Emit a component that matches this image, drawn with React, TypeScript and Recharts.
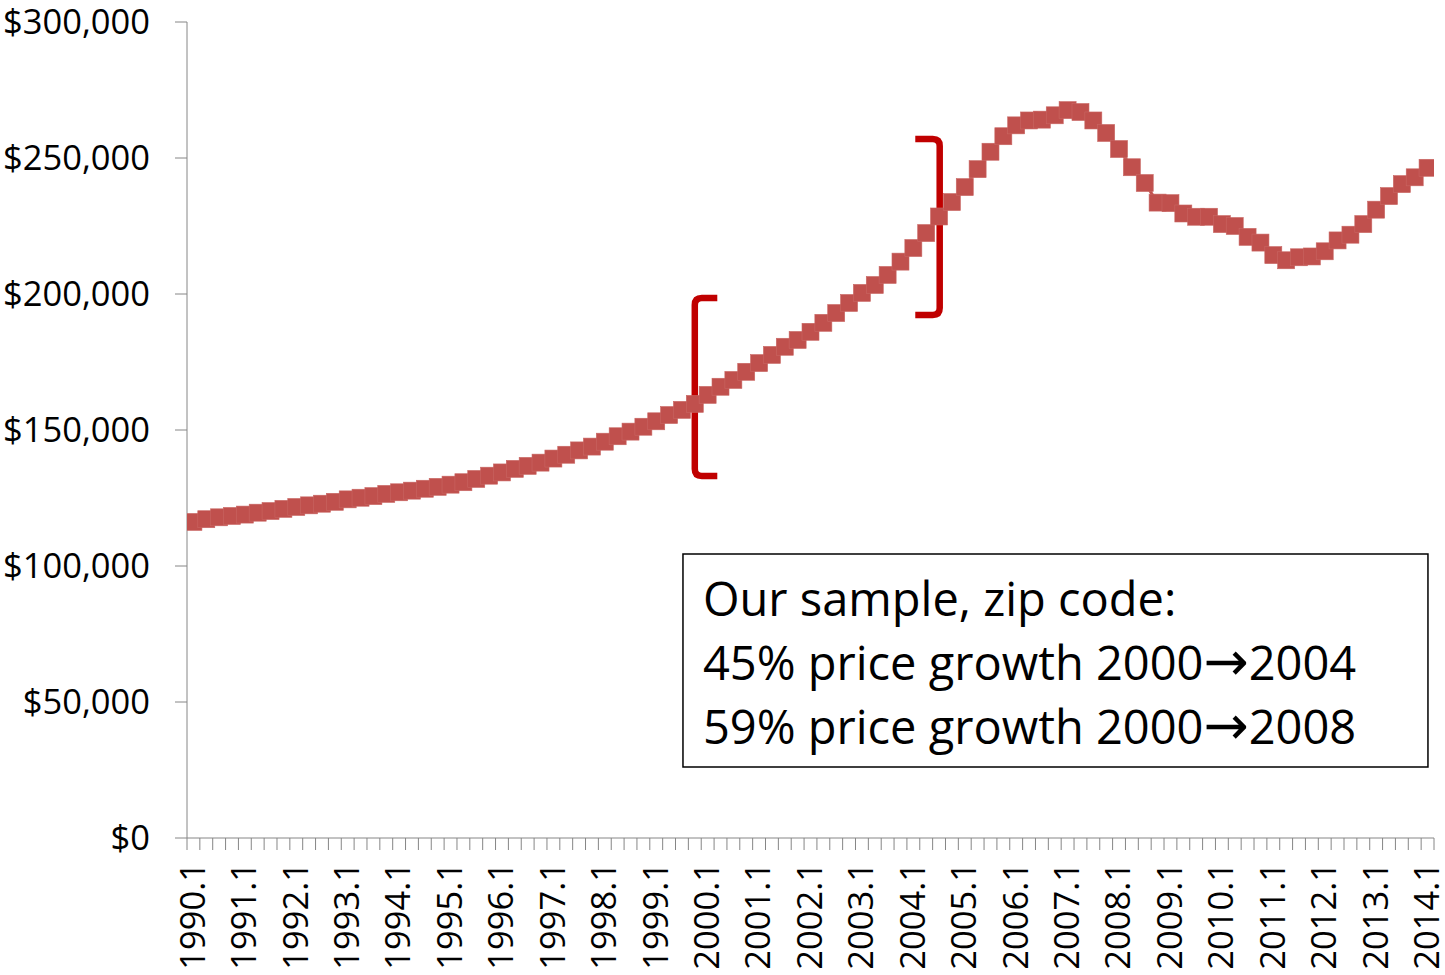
import React from "react";
import {
  LineChart,
  Line,
  XAxis,
  YAxis,
  ReferenceLine,
  ReferenceArea,
} from "recharts";

// ---------- data ----------
const YEARS = [
  1990, 1991, 1992, 1993, 1994, 1995, 1996, 1997, 1998, 1999, 2000, 2001, 2002,
  2003, 2004, 2005, 2006, 2007, 2008, 2009, 2010, 2011, 2012, 2013, 2014,
];
const QUARTERS = [1, 2, 3, 4];
const LAST_CATEGORY = "2014.1";

// quarterly median price (USD), 1990.1 .. 2014.1
const PRICES = [
  116200, 117200, 117900, 118400, 118900, 119600, 120200, 121000, 121700, 122300,
  122900, 123600, 124500, 125100, 125700, 126500, 127100, 127700, 128400, 129100,
  129900, 130800, 132000, 133200, 134400, 135700, 136800, 138000, 139500, 140900,
  142500, 143900, 145700, 147700, 149400, 151200, 153200, 155500, 157400, 159600,
  162900, 165900, 168400, 171400, 174600, 177600, 180600, 183100, 186100, 189400,
  193000, 196700, 200400, 203300, 207000, 211900, 216900, 222400, 228500, 233800,
  239300, 245900, 252300, 258000, 262000, 263800, 264100, 265700, 267600, 266900,
  263800, 259200, 253300, 246600, 240800, 233600, 233400, 229600, 228400, 228400,
  225700, 225000, 221000, 218900, 214300, 212400, 213500, 213800, 215700, 219700,
  221800, 225700, 231000, 236000, 240400, 242900, 246400,
];

const Y_TICKS = [0, 50000, 100000, 150000, 200000, 250000, 300000];

const ANNOTATION_LINES = [
  ["Our sample, zip code:"],
  ["45% price growth 2000", "\u2192", "2004"],
  ["59% price growth 2000", "\u2192", "2008"],
];

// brackets: arm end x, vertical x, top y, bottom y (data units)
const BRACKET_LEFT = { armX: 40.75, x: 39.0, top: 198500, bottom: 133100 };
const BRACKET_RIGHT = { armX: 56.15, x: 58.05, top: 257000, bottom: 192300 };

// annotation box in data units
const BOX = { x1: 38.08, x2: 96.03, y1: 26100, y2: 104400 };

// ---------- derived ----------
const CATEGORIES: string[] = [];
for (const y of YEARS) {
  for (const q of QUARTERS) {
    if (CATEGORIES.length && CATEGORIES[CATEGORIES.length - 1] === LAST_CATEGORY) break;
    CATEGORIES.push(`${y}.${q}`);
  }
}
const DATA = CATEGORIES.map((c, i) => ({ i, label: c, v: PRICES[i] }));
const N = CATEGORIES.length;
const BOUNDARY_TICKS = Array.from({ length: N + 1 }, (_, k) => k - 0.5);
const LABEL_TICKS = CATEGORIES.map((c, i) => i).filter((i) => i % 4 === 0);

const RED = "#C0504D";
const AXIS = "#868686";
const FONT = "'Open Sans', sans-serif";
const X_MAIN = "a_ticks";
const X_LABELS = "b_labels";

const SquareDot = (props: any) => {
  const { cx, cy, index } = props;
  if (cx == null || cy == null) return <g key={`d${index}`} />;
  return (
    <rect
      key={`d${index}`}
      x={cx - 8.5}
      y={cy - 8.5}
      width={17}
      height={17}
      fill={RED}
      stroke="#C96663"
      strokeWidth={0.6}
    />
  );
};

const EmptyTick = () => <g />;

const XLabelTick = (props: any) => {
  const { x, y, payload } = props;
  const text = CATEGORIES[payload.value] ?? "";
  return (
    <text
      x={x}
      y={y}
      transform={`rotate(-90, ${x}, ${y})`}
      textAnchor="end"
      dy="0.33em"
      fontSize={34.5}
      fontFamily={FONT}
      fill="#000"
    >
      {text}
    </text>
  );
};

const BracketShape = (props: any) => {
  const { x1, y1, x2, y2 } = props;
  if ([x1, y1, x2, y2].some((v) => v == null || isNaN(v))) return <g />;
  const s = Math.sign(x2 - x1) || 1;
  const r = 7;
  const d = `M ${x1} ${y1} H ${x2 - s * r} Q ${x2} ${y1} ${x2} ${y1 + r} V ${
    y2 - r
  } Q ${x2} ${y2} ${x2 - s * r} ${y2} H ${x1}`;
  return (
    <path
      d={d}
      fill="none"
      stroke="#C00000"
      strokeWidth={6.5}
      strokeLinecap="butt"
      strokeLinejoin="round"
    />
  );
};

const BoxLabel = (props: any) => {
  const vb = props.viewBox || {};
  const { x, y } = vb;
  if (x == null) return null;
  return (
    <g>
      {ANNOTATION_LINES.map((parts, k) => (
        <text
          key={k}
          x={x + 20}
          y={y + 62 + k * 64}
          fontSize={47}
          fontFamily={FONT}
          fill="#000"
        >
          {parts.map((p, j) =>
            p === "\u2192" ? (
              <tspan key={j} fontFamily="'DejaVu Sans'" fontSize={54}>
                {p}
              </tspan>
            ) : (
              <tspan key={j}>{p}</tspan>
            )
          )}
        </text>
      ))}
    </g>
  );
};

export default function App() {
  return (
    <div
      style={{
        position: "absolute",
        left: 0,
        top: 0,
        width: 1445,
        height: 975,
        background: "#fff",
        fontFamily: FONT,
      }}
    >
      <LineChart
        width={1445}
        height={975}
        data={DATA}
        margin={{ top: 22, right: 11, bottom: 0, left: 0 }}
      >
        <XAxis
          xAxisId={X_MAIN}
          dataKey="i"
          type="number"
          domain={[-0.5, N - 0.5]}
          allowDataOverflow
          ticks={BOUNDARY_TICKS}
          interval={0}
          tick={<EmptyTick />}
          tickSize={12}
          height={13}
          axisLine={{ stroke: AXIS, strokeWidth: 1 }}
          tickLine={{ stroke: AXIS, strokeWidth: 1 }}
        />
        <XAxis
          xAxisId={X_LABELS}
          dataKey="i"
          type="number"
          domain={[-0.5, N - 0.5]}
          allowDataOverflow
          ticks={LABEL_TICKS}
          interval={0}
          axisLine={false}
          tickLine={false}
          tickSize={0}
          tickMargin={11}
          height={124}
          tick={<XLabelTick />}
        />
        <YAxis
          dataKey="v"
          type="number"
          domain={[0, 300000]}
          ticks={Y_TICKS}
          interval={0}
          width={187}
          tickSize={12}
          tickMargin={25}
          axisLine={{ stroke: AXIS, strokeWidth: 1 }}
          tickLine={{ stroke: AXIS, strokeWidth: 1 }}
          tick={{ fontSize: 34.5, fill: "#000", fontFamily: FONT }}
          tickFormatter={(v: number) => `$${v.toLocaleString("en-US")}`}
        />
        <Line
          xAxisId={X_MAIN}
          dataKey="v"
          type="linear"
          stroke={RED}
          strokeWidth={3}
          dot={SquareDot}
          activeDot={false}
          isAnimationActive={false}
        />
        <ReferenceLine
          xAxisId={X_MAIN}
          segment={[
            { x: BRACKET_LEFT.armX, y: BRACKET_LEFT.top },
            { x: BRACKET_LEFT.x, y: BRACKET_LEFT.bottom },
          ]}
          ifOverflow="visible"
          shape={BracketShape}
        />
        <ReferenceLine
          xAxisId={X_MAIN}
          segment={[
            { x: BRACKET_RIGHT.armX, y: BRACKET_RIGHT.top },
            { x: BRACKET_RIGHT.x, y: BRACKET_RIGHT.bottom },
          ]}
          ifOverflow="visible"
          shape={BracketShape}
        />
        <ReferenceArea
          xAxisId={X_MAIN}
          x1={BOX.x1}
          x2={BOX.x2}
          y1={BOX.y1}
          y2={BOX.y2}
          fill="#fff"
          fillOpacity={1}
          stroke="#000"
          strokeWidth={1.5}
          ifOverflow="visible"
          label={<BoxLabel />}
        />
      </LineChart>
    </div>
  );
}
